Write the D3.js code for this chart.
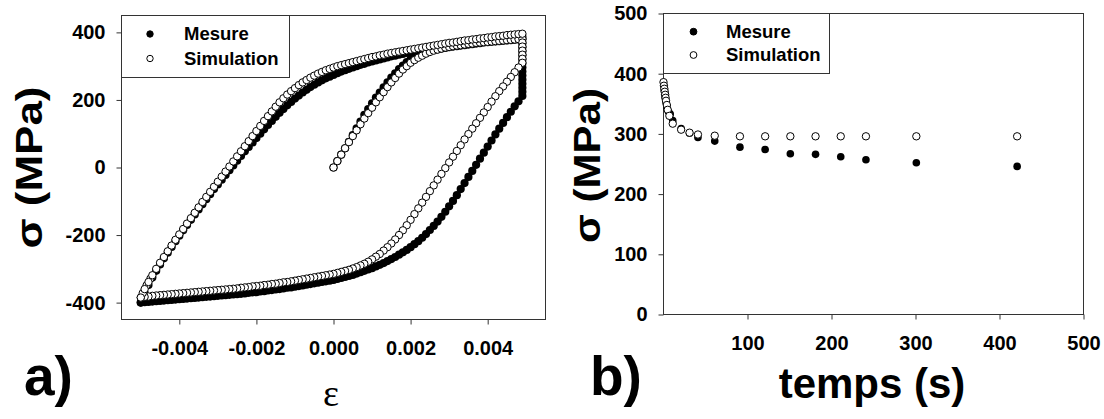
<!DOCTYPE html>
<html><head><meta charset="utf-8">
<script src="https://cdn.jsdelivr.net/npm/d3@7"></script>
<style>
body{margin:0;background:#fff}
svg{display:block}
text{font-family:"Liberation Sans",Arial,sans-serif;font-weight:bold;fill:#000}
</style>
</head><body>
<svg id="c" width="1104" height="419"></svg>
<script>
// ---------- Panel a) : hysteresis loop, strain (eps) vs stress (MPa) ----------
const epsLoad = [0,0.0001,0.0002,0.0003,0.0004,0.0005,0.0006,0.0007,0.0008,0.0009,
 0.0010,0.0011,0.0012,0.0013,0.0014,0.0015,0.0016,0.0017,0.0018,0.0019,
 0.0020,0.0021,0.0022,0.0023,0.0024,0.0025,0.0026,0.0027,0.0028,0.0029,
 0.0030,0.0031,0.0032,0.0033,0.0034,0.0035,0.0036,0.0037,0.0038,0.0039,
 0.0040,0.0041,0.0042,0.0043,0.0044,0.0045,0.0046,0.0047,0.0048,0.0049];
const epsDown = [0.0048,0.0047,0.0046,0.0045,0.0044,0.0043,0.0042,0.0041,0.0040,0.0039,
 0.0038,0.0037,0.0036,0.0035,0.0034,0.0033,0.0032,0.0031,0.0030,0.0029,
 0.0028,0.0027,0.0026,0.0025,0.0024,0.0023,0.0022,0.0021,0.0020,0.0019,
 0.0018,0.0017,0.0016,0.0015,0.0014,0.0013,0.0012,0.0011,0.0010,0.0009,
 0.0008,0.0007,0.0006,0.0005,0.0004,0.0003,0.0002,0.0001,0,
 -0.0001,-0.0002,-0.0003,-0.0004,-0.0005,-0.0006,-0.0007,-0.0008,-0.0009,-0.0010,
 -0.0011,-0.0012,-0.0013,-0.0014,-0.0015,-0.0016,-0.0017,-0.0018,-0.0019,-0.0020,
 -0.0021,-0.0022,-0.0023,-0.0024,-0.0025,-0.0026,-0.0027,-0.0028,-0.0029,-0.0030,
 -0.0031,-0.0032,-0.0033,-0.0034,-0.0035,-0.0036,-0.0037,-0.0038,-0.0039,-0.0040,
 -0.0041,-0.0042,-0.0043,-0.0044,-0.0045,-0.0046,-0.0047,-0.0048,-0.0049,-0.0050];
const epsReload = [-0.0050,-0.0049,-0.0048,-0.0047,-0.0046,-0.0045,-0.0044,-0.0043,-0.0042,-0.0041,
 -0.0040,-0.0039,-0.0038,-0.0037,-0.0036,-0.0035,-0.0034,-0.0033,-0.0032,-0.0031,
 -0.0030,-0.0029,-0.0028,-0.0027,-0.0026,-0.0025,-0.0024,-0.0023,-0.0022,-0.0021,
 -0.0020,-0.0019,-0.0018,-0.0017,-0.0016,-0.0015,-0.0014,-0.0013,-0.0012,-0.0011,
 -0.0010,-0.0009,-0.0008,-0.0007,-0.0006,-0.0005,-0.0004,-0.0003,-0.0002,-0.0001,
 0,0.0001,0.0002,0.0003,0.0004,0.0005,0.0006,0.0007,0.0008,0.0009,
 0.0010,0.0011,0.0012,0.0013,0.0014,0.0015,0.0016,0.0017,0.0018,0.0019,
 0.0020,0.0021,0.0022,0.0023,0.0024,0.0025,0.0026,0.0027,0.0028,0.0029,
 0.0030,0.0031,0.0032,0.0033,0.0034,0.0035,0.0036,0.0037,0.0038,0.0039,
 0.0040,0.0041,0.0042,0.0043,0.0044,0.0045,0.0046,0.0047,0.0048,0.0049];
const epsTurn = 0.0049;

// Simulation (open circles)
const simLoadSig = [0,19,38,57,75,93,110,128,145,161,
 177,193,208,223,238,252,265,278,290,300,
 310,318,325,331,337,342,346,349,352,355,
 357,359,361,362,364,366,367,369,370,371,
 372,373,374,375,376,377,378,379,380,381];
const simTurnSig = [370,358,346,334,322,310];
const simDownSig = [296,282,268,254,240,226,211,195,179,163,
 147,131,115,99,83,66,49,32,15,-2,
 -19,-36,-53,-70,-87,-104,-121,-138,-155,-171,
 -186,-200,-213,-225,-236,-246,-256,-264,-272,-279,
 -285,-290,-295,-299,-303,-306,-309,-312,-315,
 -317,-319,-321,-323,-325,-327,-329,-331,-333,-335,
 -337,-339,-340,-342,-344,-345,-347,-348,-350,-351,
 -352,-354,-355,-356,-358,-359,-360,-361,-362,-363,
 -364,-365,-366,-367,-368,-369,-370,-371,-372,-373,
 -374,-375,-376,-377,-378,-379,-380,-382,-383,-385];
const simReloadSig = [-385,-360,-339,-319,-300,-282,-265,-248,-231,-214,
 -198,-182,-166,-150,-134,-118,-102,-87,-72,-57,
 -42,-27,-12,3,18,33,48,63,78,93,
 108,123,138,152,166,180,193,205,216,226,
 235,244,252,259,266,272,278,283,288,292,
 296,300,303,306,309,312,315,318,321,324,
 327,329,332,334,337,339,341,343,345,347,
 349,351,353,355,357,359,361,363,365,367,
 369,370,372,374,376,377,379,380,382,383,
 385,386,388,389,390,392,393,394,395,396];
const simReloadExtraEps = [-0.00495,-0.00485,-0.00475];
const simReloadExtraSig = [-372,-349,-329];

// Mesure (filled circles)
const mesLoadSig = [0,19,38,57,76,96,116,136,156,173,
 190,207,222,237,252,266,279,291,302,312,
 320,327,333,338,342,346,348,350,352,354,
 356,358,359,361,362,364,365,367,368,370,
 371,372,373,374,375,376,377,378,379,380];
const mesTurnSig = [368,356,344,332,320,308,296,284,272,260,248,236,224,212];
const mesDownSig = [196,181,165,149,132,115,98,80,62,44,
 26,8,-10,-28,-46,-64,-82,-99,-115,-131,
 -146,-160,-173,-185,-197,-208,-218,-227,-236,-244,
 -251,-258,-265,-271,-277,-283,-288,-293,-298,-302,
 -306,-310,-314,-318,-321,-324,-327,-330,-333,
 -335,-337,-339,-341,-343,-345,-347,-349,-351,-353,
 -355,-356,-358,-360,-361,-363,-364,-366,-367,-369,
 -370,-371,-373,-374,-375,-376,-377,-378,-379,-380,
 -381,-382,-383,-384,-385,-386,-387,-388,-389,-390,
 -391,-392,-393,-394,-395,-396,-397,-398,-399,-400];
const mesReloadSig = [-400,-372,-348,-326,-306,-287,-269,-252,-235,-218,
 -202,-186,-170,-155,-139,-124,-109,-94,-79,-64,
 -50,-36,-22,-8,6,20,34,48,61,74,
 87,100,113,126,138,150,162,173,184,194,
 204,213,222,230,238,245,252,258,264,269,
 274,279,284,288,292,296,300,304,307,311,
 314,317,320,323,326,329,331,334,336,339,
 341,343,345,347,349,351,353,355,357,359,
 361,363,364,366,368,369,371,372,374,375,
 377,378,380,381,382,384,385,386,387,388];

const xTicksA = [-0.004,-0.002,0,0.002,0.004];
const yTicksA = [-400,-200,0,200,400];

// ---------- Panel b) : relaxation, time (s) vs stress (MPa) ----------
const relaxSimT   = [0,0.5,1,1.5,2,2.5,3,4,5,7,11,21,31,41,61,91,121,151,181,211,241,301,421];
const relaxSimSig = [386,380,375,370,365,360,355,348,340,330,317,307,302,299,297,296,296,296,296,296,296,296,296];
const relaxMesT   = [0.5,1,1.5,2,3,4,6,8,11,21,31,41,61,91,121,151,181,211,241,301,421];
const relaxMesSig = [380,372,366,360,352,345,337,333,322,309,301,294,288,278,274,267,266,262,257,252,246];
const xTicksB = [100,200,300,400,500];
const yTicksB = [0,100,200,300,400,500];

const seriesNames = ["Mesure","Simulation"];

// ---------- drawing ----------
const svg = d3.select("#c");
const hyph = f => d => d3.format(f)(d).replace("\u2212","-");
const zip = (xs, ys) => xs.map((x,i)=>[x, ys[i]]);

function styleAxis(g){
  g.select(".domain").remove();
  g.selectAll(".tick line").attr("stroke","#333");
  g.selectAll(".tick text").style("font-size","20px").style("font-weight","bold")
    .style("font-family","'Liberation Sans',Arial,sans-serif").attr("fill","#000");
}

function panel(opts){
  const {x, y, xTicks, yTicks, xFmt, yFmt} = opts;
  const g = svg.append("g");
  const [x0,x1] = x.range(), [y0,y1] = y.range();
  g.append("g").attr("transform",`translate(0,${y0})`)
    .call(d3.axisBottom(x).tickValues(xTicks).tickFormat(xFmt).tickSize(5).tickSizeOuter(0).tickPadding(16))
    .call(styleAxis);
  g.append("g").attr("transform",`translate(${x0},0)`)
    .call(d3.axisLeft(y).tickValues(yTicks).tickFormat(yFmt).tickSize(5).tickSizeOuter(0).tickPadding(11))
    .call(styleAxis);
  g.append("rect").attr("x",x0).attr("y",y1).attr("width",x1-x0).attr("height",y0-y1)
    .attr("fill","none").attr("stroke","#333").attr("stroke-width",1);
  return g;
}

function legend(x0, y0, w, h, symX, textX, rows, r){
  const g = svg.append("g");
  g.append("rect").attr("x",x0).attr("y",y0).attr("width",w).attr("height",h)
    .attr("fill","#fff").attr("stroke","#333");
  seriesNames.forEach((name,i)=>{
    g.append("circle").attr("cx",symX).attr("cy",rows[i]).attr("r",r)
      .attr("fill", i===0 ? "#000" : "#fff").attr("stroke","#000").attr("stroke-width",1);
    g.append("text").attr("x",textX).attr("y",rows[i]).attr("dy","0.35em")
      .style("font-size","18.5px").text(name);
  });
}

function yTitle(x, y, len){
  svg.append("text").attr("transform",`translate(${x},${y}) rotate(-90)`)
    .attr("text-anchor","middle").attr("textLength",len).attr("lengthAdjust","spacingAndGlyphs")
    .style("font-size","37px").text("σ (MPa)");
}

// Panel a
const xa = d3.scaleLinear().domain([-0.0055,0.0055]).range([121.5,545.5]);
const ya = d3.scaleLinear().domain([-450,450]).range([319.5,15.5]);
const pa = panel({x:xa, y:ya, xTicks:xTicksA, yTicks:yTicksA, xFmt:hyph(".3f"), yFmt:hyph("d")});

const mesPts = [].concat(
  zip(epsLoad, mesLoadSig),
  mesTurnSig.map(s=>[epsTurn, s]),
  zip(epsDown, mesDownSig),
  zip(epsReload, mesReloadSig));
const simPts = [].concat(
  zip(epsLoad, simLoadSig),
  simTurnSig.map(s=>[epsTurn, s]),
  zip(epsDown, simDownSig),
  zip(simReloadExtraEps, simReloadExtraSig),
  zip(epsReload, simReloadSig));

pa.append("g").selectAll("circle").data(mesPts).join("circle")
  .attr("cx",d=>xa(d[0])).attr("cy",d=>ya(d[1])).attr("r",4.1).attr("fill","#000");
pa.append("g").selectAll("circle").data(simPts).join("circle")
  .attr("cx",d=>xa(d[0])).attr("cy",d=>ya(d[1])).attr("r",3.7)
  .attr("fill","#fff").attr("stroke","#000").attr("stroke-width",1);

legend(121.5, 15.5, 168, 62, 150, 184, [34, 58.5], 3.2);

yTitle(42, 167.5, 162);
svg.append("text").attr("x",331).attr("y",406).attr("text-anchor","middle")
  .style("font-family","'Liberation Serif','Times New Roman',serif").style("font-weight","normal")
  .style("font-size","38px").text("ε");
svg.append("text").attr("x",24).attr("y",395).style("font-size","55px").text("a)");

// Panel b
const xb = d3.scaleLinear().domain([0,500]).range([663.5,1083.5]);
const yb = d3.scaleLinear().domain([0,500]).range([314.5,13.5]);
const pb = panel({x:xb, y:yb, xTicks:xTicksB, yTicks:yTicksB, xFmt:d3.format("d"), yFmt:d3.format("d")});

pb.append("g").selectAll("circle").data(zip(relaxMesT, relaxMesSig)).join("circle")
  .attr("cx",d=>xb(d[0])).attr("cy",d=>yb(d[1])).attr("r",3.8).attr("fill","#000");
pb.append("g").selectAll("circle").data(zip(relaxSimT, relaxSimSig)).join("circle")
  .attr("cx",d=>xb(d[0])).attr("cy",d=>yb(d[1])).attr("r",3.7)
  .attr("fill","#fff").attr("stroke","#000").attr("stroke-width",1);

legend(663.5, 13.5, 166, 60, 693.5, 726, [31.7, 55], 3.4);

yTitle(600, 165.5, 155);
svg.append("text").attr("x",872).attr("y",398).attr("text-anchor","middle")
  .style("font-size","42px").text("temps (s)");
svg.append("text").attr("x",590).attr("y",395).style("font-size","55px").text("b)");
</script>
</body></html>
